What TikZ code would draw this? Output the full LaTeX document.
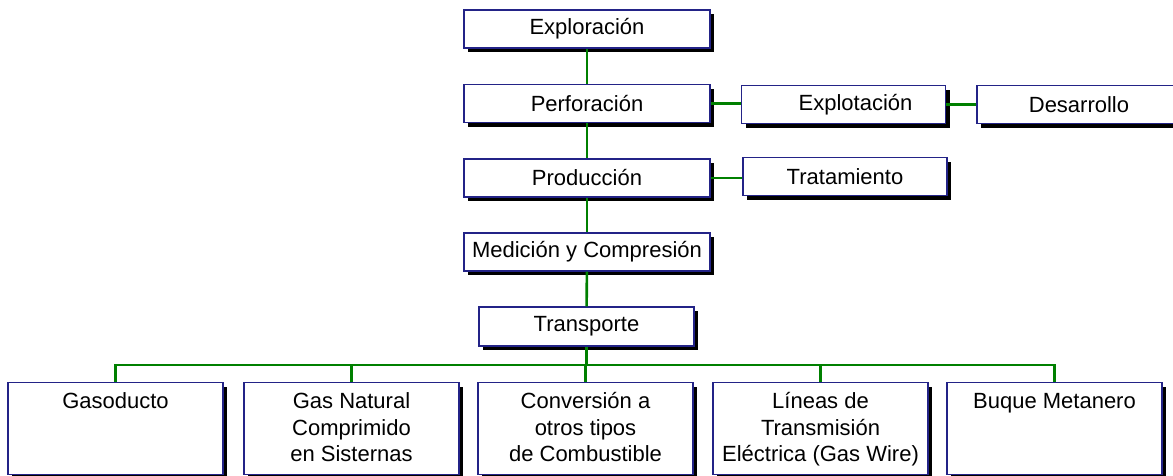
\documentclass[tikz,border=0pt]{standalone}
\usepackage{fontspec}
\setmainfont{Liberation Sans}
\usepackage{tikz}
\usetikzlibrary{shadows}

\definecolor{boxline}{RGB}{35,35,135}
\definecolor{linkgreen}{RGB}{0,128,0}

\tikzset{
  stage/.style={draw=boxline, line width=1.3pt, fill=white, inner sep=0pt,
    minimum width=246pt, minimum height=38pt,
    drop shadow={shadow xshift=4pt, shadow yshift=-4pt, fill=black, opacity=1}},
  branch/.style={stage, minimum width=204pt},
  mode/.style={draw=boxline, line width=1.3pt, fill=white, inner sep=0pt, anchor=north,
    drop shadow={shadow xshift=4pt, shadow yshift=-4pt, fill=black, opacity=1}},
  link/.style={linkgreen, line width=2.6pt}
}

\newcommand{\modetext}[1]{\parbox[c][92pt][t]{215pt}{\centering\vspace*{7pt}\strut#1}}

\begin{document}
\begin{tikzpicture}[x=1pt, y=-1pt, font=\fontsize{22}{26.7}\selectfont]

    \useasboundingbox (0,0) rectangle (1173,475);

                % main column
                \node[stage] (exploracion) at (587,29) {Exploración};
                \node[stage] (perforacion) at (587,103.5) {Perforación};
                \node[stage] (produccion) at (587,178) {Producción};
                \node[stage] (medicion) at (587,252) {Medición y Compresión};
                \node[stage, minimum width=215pt, minimum height=39pt] (transporte) at (586.5,326.5) {Transporte};

                % side branches
                \node[branch] (explotacion) at (843.5,104.5) {\hspace*{24pt}Explotación};
                \node[branch] (desarrollo) at (1079,104.5) {Desarrollo};
                \node[branch] (tratamiento) at (845,176.5) {Tratamiento};

                % transport modes
                \node[mode] (gasoducto) at (115.5,382) {\modetext{Gasoducto}};
                \node[mode] (gnc) at (351.5,382) {\modetext{Gas Natural\\Comprimido\\en Sisternas}};
                \node[mode] (conversion) at (585.5,382) {\modetext{Conversión a\\otros tipos\\de Combustible}};
                \node[mode] (lineas) at (820.5,382) {\modetext{Líneas de\\Transmisión\\Eléctrica (Gas Wire)}};
                \node[mode] (buque) at (1054.5,382) {\modetext{Buque Metanero}};

                \coordinate (bus) at (586.5,365);

                \begin{scope}[on background layer/.try]
                \draw[link] (exploracion)--(perforacion);
                \draw[link] (perforacion)--(produccion);
                \draw[link] (produccion)--(medicion);
                \draw[link] (medicion)--(transporte);
                \draw[link] (perforacion.east)--(explotacion.west |- perforacion.east);
                \draw[link] (explotacion.east)--(desarrollo.west);
                \draw[link] (produccion.east)--(tratamiento.west |- produccion.east);
                \draw[link] (transporte.south)--(bus);
                \end{scope}

                \foreach \m in {gasoducto,gnc,conversion,lineas,buque}
                    \draw[link] (bus) -| (\m.north);

\end{tikzpicture}
\end{document}
